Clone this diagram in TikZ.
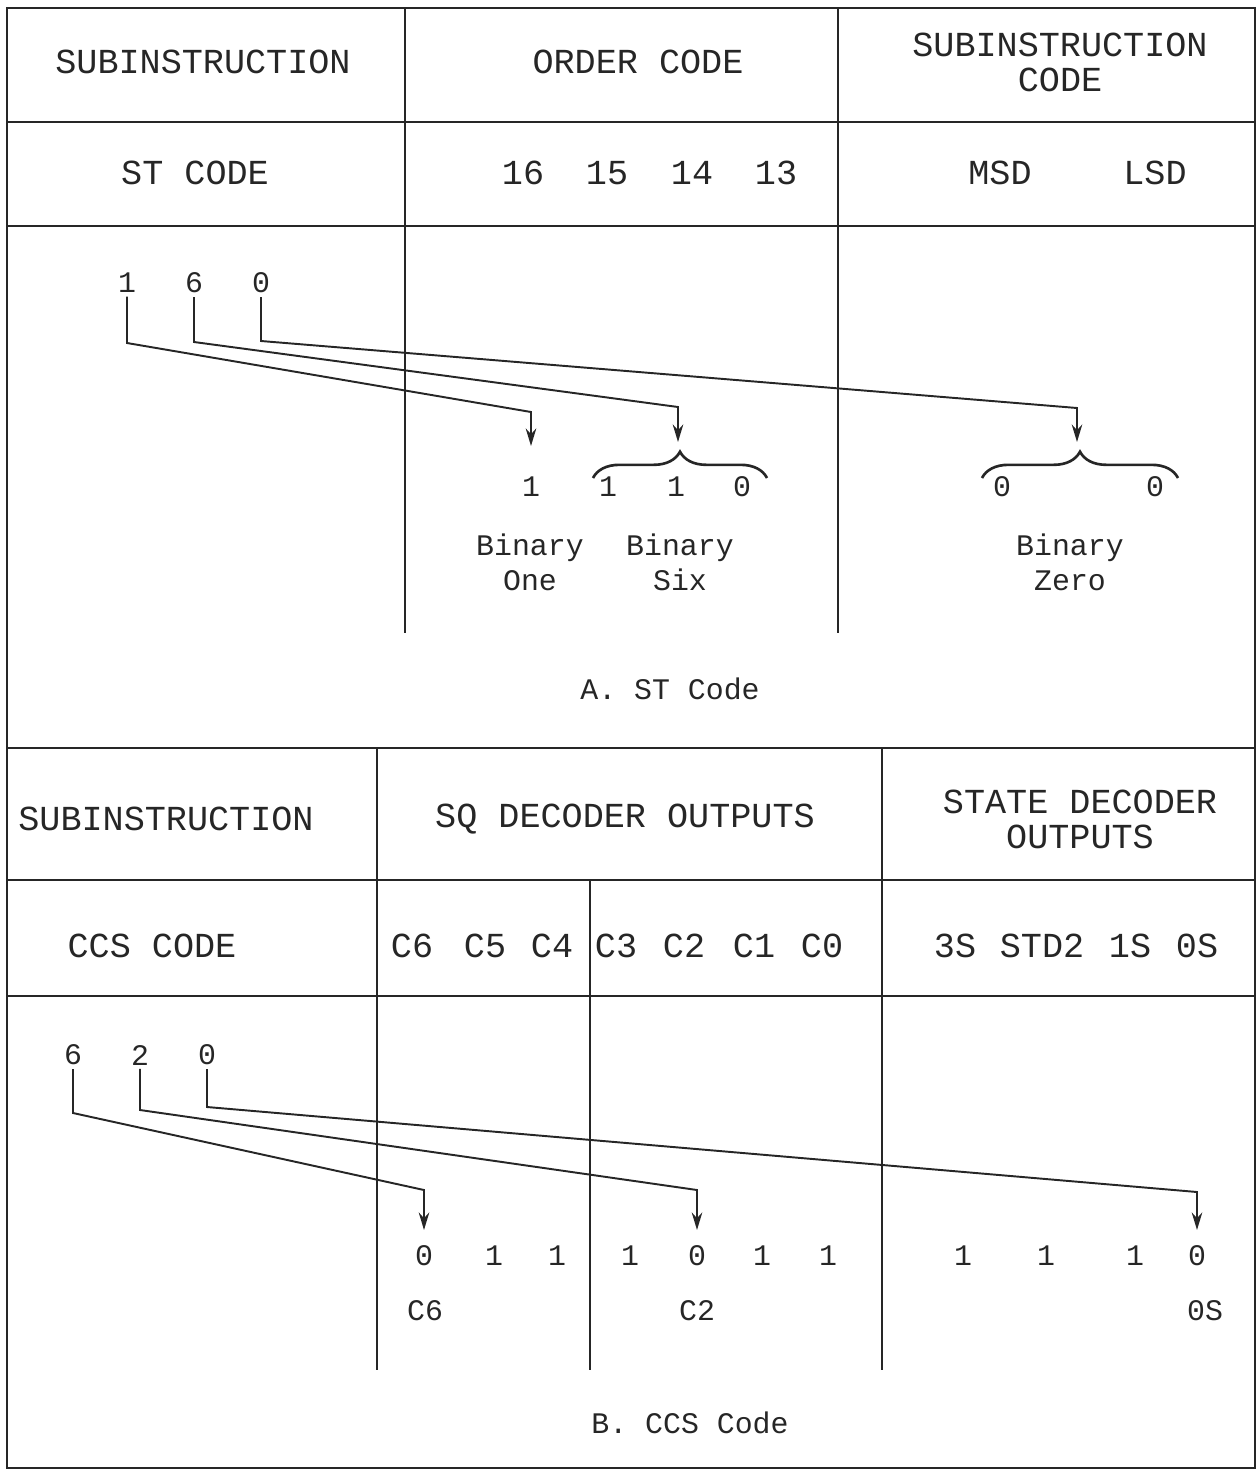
\documentclass[tikz,border=0pt]{standalone}
\usepackage{fontspec}
\setmainfont{Liberation Mono}
\usetikzlibrary{arrows.meta,decorations.pathreplacing}

\begin{document}
\begin{tikzpicture}
  [x=0.02cm,y=-0.02cm,every node/.style={inner sep=2pt,text=black!85},
   head/.style={font=\fontsize{20}{20}\selectfont,align=center},
   bit/.style={font=\fontsize{17}{20}\selectfont},
   lbl/.style={font=\fontsize{17}{20}\selectfont,align=center},
   rule/.style={line width=1.3pt,black!85},
   arr/.style={line width=1.1pt,black!85,-{Stealth[length=10pt,width=6pt]}},
   brc/.style={line width=1.5pt,black!85,decorate,decoration={brace,amplitude=15pt}}]
  \useasboundingbox (0,0) rectangle (1258,1475);

  % frame and rules
  \draw[rule] (7,8) rectangle (1255,1468);
  \foreach \y in {122,226,748,880,996}
    \draw[rule] (7,\y) -- (1255,\y);
  \foreach \x/\a/\b in {405/8/633,838/8/633,377/748/1370,882/748/1370,590/880/1370}
    \draw[rule] (\x,\a) -- (\x,\b);

  % A. ST code
  \node[head] (sub1) at (203,62) {SUBINSTRUCTION};
  \node[head] (ord) at (638,62) {ORDER CODE};
  \node[head] (subc) at (1060,62) {SUBINSTRUCTION\\CODE};
  \node[head] (st) at (195,173) {ST CODE};
  \foreach \n/\x in {16/523,15/607,14/692,13/776}
    \node[head] (o\n) at (\x,173) {\n};
  \node[head] (msd) at (1000,173) {MSD};
  \node[head] (lsd) at (1155,173) {LSD};

  \foreach \i/\v/\x in {1/1/127,2/6/194,3/0/261}
    \node[bit] (d\i) at (\x,283) {\v};
  \foreach \i/\v/\x in {1/1/531,2/1/608,3/1/676,4/0/742,5/0/1002,6/0/1155}
    \node[bit] (b\i) at (\x,487) {\v};

  \coordinate (k1) at (127,343);  \coordinate (m1) at (531,412);  \coordinate (e1) at (531,446);
  \coordinate (k2) at (194,342);  \coordinate (m2) at (678,407);  \coordinate (e2) at (678,442);
  \coordinate (k3) at (261,341);  \coordinate (m3) at (1077,408); \coordinate (e3) at (1077,442);
  \foreach \i in {1,2,3}
    \draw[arr] (d\i) -- (k\i) -- (m\i) -- (e\i);

  \draw[brc] (593,478) -- (767,478);
  \draw[brc] (982,478) -- (1178,478);

  \node[lbl] (one) at (530,562) {Binary\\One};
  \node[lbl] (six) at (680,562) {Binary\\Six};
  \node[lbl] (zero) at (1070,562) {Binary\\Zero};
  \node[lbl] (capa) at (670,689) {A. ST Code};

  % B. CCS code
  \node[head] (sub2) at (166,819) {SUBINSTRUCTION};
  \node[head] (sq) at (625,819) {SQ DECODER OUTPUTS};
  \node[head] (state) at (1080,819) {STATE DECODER\\OUTPUTS};
  \node[head] (ccs) at (152,946) {CCS CODE};
  \foreach \n/\x in {C6/412,C5/485,C4/552,C3/616,C2/684,C1/754,C0/822,3S/955,STD2/1042,1S/1130,0S/1197}
    \node[head] (h\n) at (\x,946) {\n};

  \foreach \i/\v/\x in {1/6/73,2/2/140,3/0/207}
    \node[bit] (g\i) at (\x,1055) {\v};
  \foreach \i/\v/\x in {1/0/424,2/1/494,3/1/557,4/1/630,5/0/697,6/1/762,7/1/828,8/1/963,9/1/1046,10/1/1135,11/0/1197}
    \node[bit] (c\i) at (\x,1256) {\v};

  \coordinate (p1) at (73,1113);  \coordinate (q1) at (424,1190);  \coordinate (f1) at (424,1230);
  \coordinate (p2) at (140,1110); \coordinate (q2) at (697,1190);  \coordinate (f2) at (697,1230);
  \coordinate (p3) at (207,1107); \coordinate (q3) at (1197,1192); \coordinate (f3) at (1197,1230);
  \foreach \i in {1,2,3}
    \draw[arr] (g\i) -- (p\i) -- (q\i) -- (f\i);

  \node[bit] (lc6) at (425,1311) {C6};
  \node[bit] (lc2) at (697,1311) {C2};
  \node[bit] (l0s) at (1205,1311) {0S};
  \node[lbl] (capb) at (690,1423) {B. CCS Code};

\end{tikzpicture}
\end{document}
